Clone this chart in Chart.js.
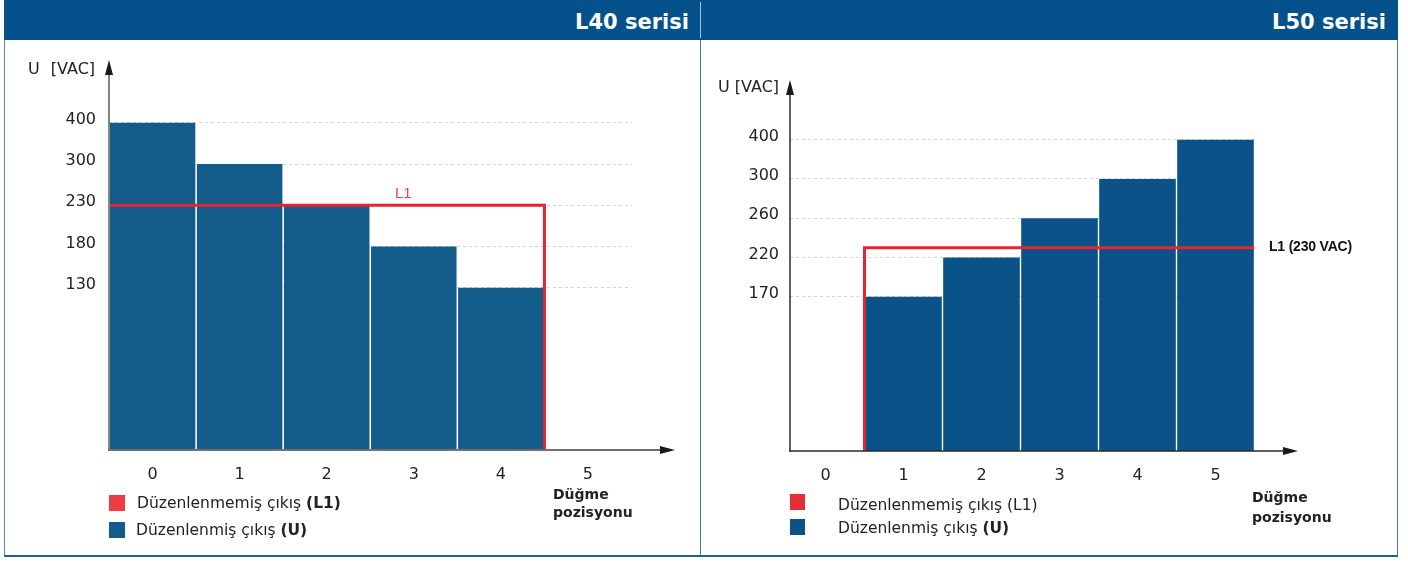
<!DOCTYPE html>
<html><head><meta charset="utf-8">
<script src="https://cdn.jsdelivr.net/npm/chart.js@4"></script>
<style>
html,body{margin:0;padding:0;background:#fff;}
#page{position:relative;width:1408px;height:561px;overflow:hidden;font-family:"DejaVu Sans",sans-serif;color:#222;}
.abs{position:absolute;white-space:nowrap;}
canvas{position:absolute;top:0;}
.hdr{background:#04518b;}
.htitle{top:2px;height:40px;line-height:40px;font-weight:bold;font-size:21px;color:#fff;}
.sq{width:16px;height:16px;}
.leg{font-size:15.5px;line-height:20px;color:#222;}
.btn{font-weight:bold;font-size:14px;color:#222;}
.ylab{font-size:16px;line-height:20px;color:#222;}
</style>
</head><body>
<div id="page">
  <div class="abs hdr" style="left:4px;top:0;width:1394px;height:40px;"></div>
  <div class="abs" style="left:700px;top:2px;width:1px;height:36px;background:#a7c2db;"></div>
  <div class="abs htitle" style="right:719px;">L40 serisi</div>
  <div class="abs htitle" style="right:22px;">L50 serisi</div>
  <div class="abs" style="left:4px;top:40px;width:1px;height:516px;background:#4f8cc0;"></div>
  <div class="abs" style="left:700px;top:40px;width:1px;height:516px;background:#3f7fb6;"></div>
  <div class="abs" style="left:1397px;top:40px;width:1px;height:516px;background:#3f7fb6;"></div>
  <div class="abs" style="left:4px;top:555px;width:1394px;height:2px;background:#1f5f96;"></div>

  <canvas id="c40" width="700" height="561" style="left:0;"></canvas>
  <canvas id="c50" width="708" height="561" style="left:700px;"></canvas>

  <div class="abs ylab" style="left:28px;top:59px;word-spacing:6px;">U [VAC]</div>
  <div class="abs ylab" style="left:718px;top:77px;">U [VAC]</div>

  <div class="abs" style="left:395px;top:183px;font-family:'Liberation Sans',sans-serif;font-size:15px;line-height:20px;color:#e8474f;">L1</div>
  <div class="abs" style="left:1269px;top:236px;font-family:'Liberation Sans',sans-serif;font-weight:bold;font-size:14px;line-height:20px;color:#111;letter-spacing:-0.2px;">L1 (230 VAC)</div>

  <div class="abs sq" style="left:109px;top:495px;background:#ee3b44;"></div>
  <div class="abs leg" style="left:137px;top:493px;">Düzenlenmemiş çıkış <b>(L1)</b></div>
  <div class="abs sq" style="left:109px;top:522px;background:#125b8b;"></div>
  <div class="abs leg" style="left:136px;top:520px;">Düzenlenmiş çıkış <b>(U)</b></div>
  <div class="abs btn" style="left:553px;top:485px;line-height:18px;">Düğme<br>pozisyonu</div>

  <div class="abs sq" style="left:790px;top:494px;width:15px;background:#e52d35;"></div>
  <div class="abs leg" style="left:838px;top:495px;">Düzenlenmemiş çıkış (L1)</div>
  <div class="abs sq" style="left:790px;top:519px;width:15px;background:#0a5287;"></div>
  <div class="abs leg" style="left:838px;top:518px;">Düzenlenmiş çıkış <b>(U)</b></div>
  <div class="abs btn" style="left:1252px;top:487px;line-height:20px;">Düğme<br>pozisyonu</div>
</div>
<script>
// ---- data ----
const positions = [0, 1, 2, 3, 4, 5];
const l40Voltage = [400, 300, 230, 180, 130, null];
const l50Voltage = [null, 170, 220, 260, 300, 400];
const l40YTicks = [130, 180, 230, 300, 400];
const l50YTicks = [170, 220, 260, 300, 400];
const l40L1X = [-0.5, 4.5, 4.5];
const l40L1Y = [230, 230, 0];
const l50L1X = [0.5, 0.5, 5.5];
const l50L1Y = [0, 230, 230];

// ---- non-linear (equally spaced ticks) value scale ----
class PiecewiseScale extends Chart.LinearScale {
  determineDataLimits() {
    const t = this.options.tickValues;
    this.min = 0; this.max = t[t.length - 1];
  }
  buildTicks() { return this.options.tickValues.map(v => ({value: v})); }
  _toUnits(v) {
    const t = this.options.tickValues, g = this.options.firstGap;
    if (v <= t[0]) return v / t[0] * g;
    for (let i = 1; i < t.length; i++) {
      if (v <= t[i]) return g + (i - 1) + (v - t[i - 1]) / (t[i] - t[i - 1]);
    }
    const n = t.length;
    return g + (n - 1) + (v - t[n - 1]) / (t[n - 1] - t[n - 2]);
  }
  _total() { return this.options.firstGap + this.options.tickValues.length - 1 + this.options.headroom; }
  getPixelForValue(v) {
    return this.bottom - this._toUnits(v) / this._total() * (this.bottom - this.top);
  }
  getValueForPixel(p) {
    const u = (this.bottom - p) / (this.bottom - this.top) * this._total();
    const t = this.options.tickValues, g = this.options.firstGap;
    if (u <= g) return u / g * t[0];
    const k = Math.min(Math.floor(u - g), t.length - 2);
    return t[k] + (u - g - k) * (t[k + 1] - t[k]);
  }
}
PiecewiseScale.id = 'piecewise';
PiecewiseScale.defaults = Chart.LinearScale.defaults;
Chart.register(PiecewiseScale);

const axisArrows = {
  id: 'axisArrows',
  afterDatasetsDraw(chart, args, o) {
    const {ctx, chartArea: a} = chart;
    ctx.save();
    ctx.lineWidth = o.lineWidth;
    ctx.strokeStyle = o.yColor;
    ctx.beginPath(); ctx.moveTo(a.left, a.bottom + o.lineWidth / 2); ctx.lineTo(a.left, a.top + o.headLen - 1); ctx.stroke();
    ctx.strokeStyle = o.xColor;
    const tip = a.right + o.xExtend;
    ctx.beginPath(); ctx.moveTo(a.left - o.lineWidth / 2, a.bottom); ctx.lineTo(tip - o.headLen + 1, a.bottom); ctx.stroke();
    ctx.fillStyle = o.headColor;
    ctx.beginPath(); ctx.moveTo(a.left, a.top); ctx.lineTo(a.left - o.headHalf, a.top + o.headLen); ctx.lineTo(a.left + o.headHalf, a.top + o.headLen); ctx.closePath(); ctx.fill();
    ctx.beginPath(); ctx.moveTo(tip, a.bottom); ctx.lineTo(tip - o.headLen, a.bottom - o.headHalf); ctx.lineTo(tip - o.headLen, a.bottom + o.headHalf); ctx.closePath(); ctx.fill();
    ctx.restore();
  }
};
Chart.register(axisArrows);
Chart.defaults.font.family = "'DejaVu Sans', sans-serif";

function makeChart(id, volts, yTicks, l1x, l1y, s) {
  return new Chart(document.getElementById(id), {
    type: 'bar',
    data: {
      datasets: [
        {type: 'line', data: l1x.map((x, i) => ({x: x, y: l1y[i]})), borderColor: s.red, borderWidth: 3,
         pointRadius: 0, tension: 0, fill: false, order: 0, borderJoinStyle: 'miter', borderCapStyle: 'butt'},
        {type: 'bar', data: positions.map((p, i) => ({x: p, y: volts[i]})).filter(d => d.y !== null),
         backgroundColor: s.bar, borderWidth: 0, barPercentage: 0.982, categoryPercentage: 1, order: 1}
      ]
    },
    options: {
      responsive: false, animation: false, devicePixelRatio: 1,
      layout: {padding: {left: 0, right: s.padRight, top: s.padTop, bottom: 0}},
      plugins: {legend: {display: false}, tooltip: {enabled: false},
        axisArrows: {lineWidth: s.axisW, xColor: s.xColor, yColor: s.yColor, headColor: s.headColor,
                     headLen: 15, headHalf: 4, xExtend: 43.5}},
      scales: {
        x: {type: 'linear', min: s.xMin, max: 5.5, offset: false,
            grid: {display: false, offset: false}, border: {display: false},
            afterBuildTicks: sc => { sc.ticks = positions.map(v => ({value: v})); },
            afterFit: sc => { sc.height = s.xHeight; },
            ticks: {padding: 7, color: '#222', font: {size: 16}, autoSkip: false, maxRotation: 0,
                    callback: v => String(v)}},
        y: {type: 'piecewise', tickValues: yTicks, firstGap: 3.93, headroom: 1.52,
            afterFit: sc => { sc.width = s.yWidth; },
            grid: {color: '#d4d4d4', lineWidth: 1, drawTicks: false, borderDash: [3, 3]},
            border: {display: false, dash: [3, 3]},
            ticks: {padding: s.tickPad, color: '#222', font: {size: 16}, labelOffset: -3, autoSkip: false}}
      }
    }
  });
}

makeChart('c40', l40Voltage, l40YTicks, l40L1X, l40L1Y,
  {red: '#e8232b', bar: '#125b8b', padRight: 68.5, padTop: 60, xHeight: 111, yWidth: 109, xMin: -0.5,
   tickPad: 13, axisW: 2, xColor: '#707070', yColor: '#858585', headColor: '#1a1a1a'});
makeChart('c50', l50Voltage, l50YTicks, l50L1X, l50L1Y,
  {red: '#e52630', bar: '#0a5287', padRight: 153.5, padTop: 80, xHeight: 110, yWidth: 90, xMin: -0.455,
   tickPad: 11, axisW: 1.5, xColor: '#2a2a2a', yColor: '#2a2a2a', headColor: '#1a1a1a'});
</script>
</body></html>
